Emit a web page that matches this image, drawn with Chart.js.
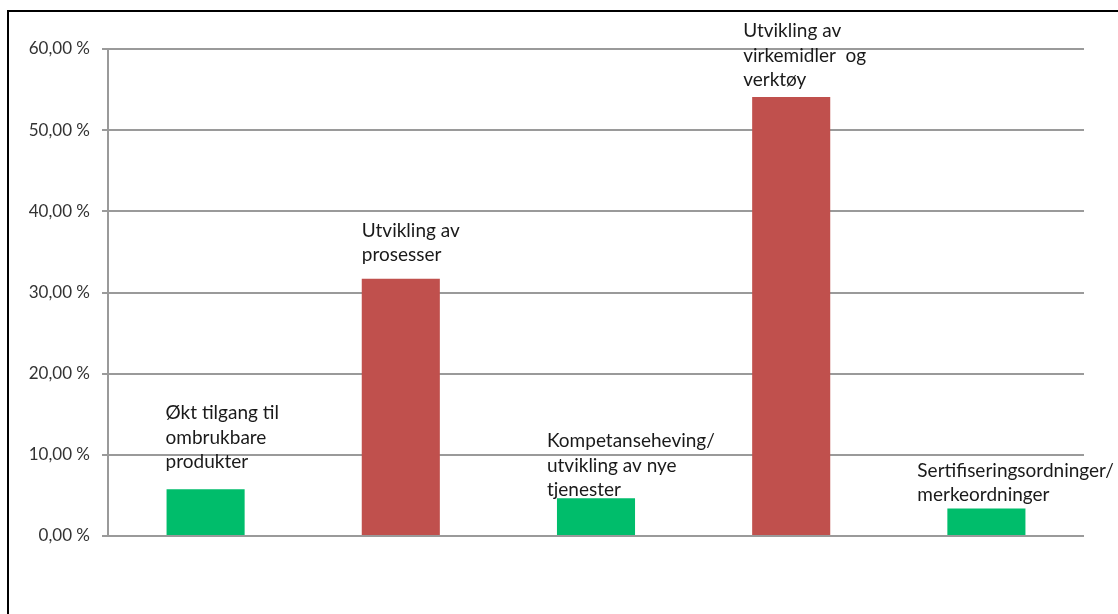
<!DOCTYPE html>
<html>
<head>
<meta charset="utf-8">
<script src="https://cdn.jsdelivr.net/npm/chart.js@4/dist/chart.umd.min.js"></script>
<style>
  html, body { margin: 0; padding: 0; background: #ffffff; }
  #wrap { position: relative; width: 1118px; height: 614px; overflow: hidden; }
  #frame {
    position: absolute; left: 7px; top: 10px; width: 1200px; height: 700px;
    border-left: 2px solid #000; border-top: 2px solid #000;
  }
  #chart { position: absolute; left: 0; top: 0; }
</style>
</head>
<body>
<div id="wrap">
  <div id="frame"></div>
  <canvas id="chart" width="1118" height="614"></canvas>
</div>
<script>
const categories = [
  "Økt tilgang til ombrukbare produkter",
  "Utvikling av prosesser",
  "Kompetanseheving/utvikling av nye tjenester",
  "Utvikling av virkemidler og verktøy",
  "Sertifiseringsordninger/merkeordninger"
];
const values = [5.75, 31.7, 4.65, 54.1, 3.4];
const labelLines = [
  ["Økt tilgang til", "ombrukbare", "produkter"],
  ["Utvikling av", "prosesser"],
  ["Kompetanseheving/", "utvikling av nye", "tjenester"],
  ["Utvikling av", "virkemidler  og", "verktøy"],
  ["Sertifiseringsordninger/", "merkeordninger"]
];
const yTicks = [0, 10, 20, 30, 40, 50, 60];

const green = "#00BD6B";
const red = "#C0504D";

// hand placed text boxes, as in the original sheet
const labelOffsets = [
  { dx: -1, dy: -76 },
  { dx: 0, dy: -48 },
  { dx: -10, dy: -57 },
  { dx: -9, dy: -66 },
  { dx: -30, dy: -38 }
];

const barLabels = {
  id: "barLabels",
  afterDatasetsDraw(chart) {
    const ctx = chart.ctx;
    const meta = chart.getDatasetMeta(0);
    ctx.save();
    ctx.font = "19px Lato";
    ctx.fillStyle = "#1a1a1a";
    ctx.textAlign = "left";
    ctx.textBaseline = "middle";
    meta.data.forEach((bar, i) => {
      const left = bar.x - bar.width / 2 + labelOffsets[i].dx;
      const top = bar.y + labelOffsets[i].dy;
      labelLines[i].forEach((line, j) => {
        ctx.fillText(line, left, top + j * 24.5);
      });
    });
    ctx.restore();
  }
};

new Chart(document.getElementById("chart").getContext("2d"), {
  type: "bar",
  data: {
    labels: categories,
    datasets: [
      {
        data: values,
        backgroundColor: [green, red, green, red, green],
        barPercentage: 0.4,
        categoryPercentage: 1
      }
    ]
  },
  options: {
    responsive: false,
    animation: false,
    layout: { padding: { top: 49, right: 34, bottom: 78, left: 0 } },
    plugins: {
      legend: { display: false },
      tooltip: { enabled: false }
    },
    scales: {
      x: { display: false },
      y: {
        min: 0,
        max: 60,
        afterFit: (scale) => { scale.width = 108; },
        afterBuildTicks: (scale) => {
          scale.ticks = yTicks.map((v) => ({ value: v }));
        },
        grid: { color: "#9a9a9a", lineWidth: 2, tickLength: 6 },
        border: { color: "#9a9a9a", width: 2 },
        ticks: {
          padding: 12,
          color: "#333333",
          font: { family: "Lato", size: 17 },
          callback: (v) => v.toFixed(2).replace(".", ",") + " %"
        }
      }
    }
  },
  plugins: [barLabels]
});
</script>
</body>
</html>
